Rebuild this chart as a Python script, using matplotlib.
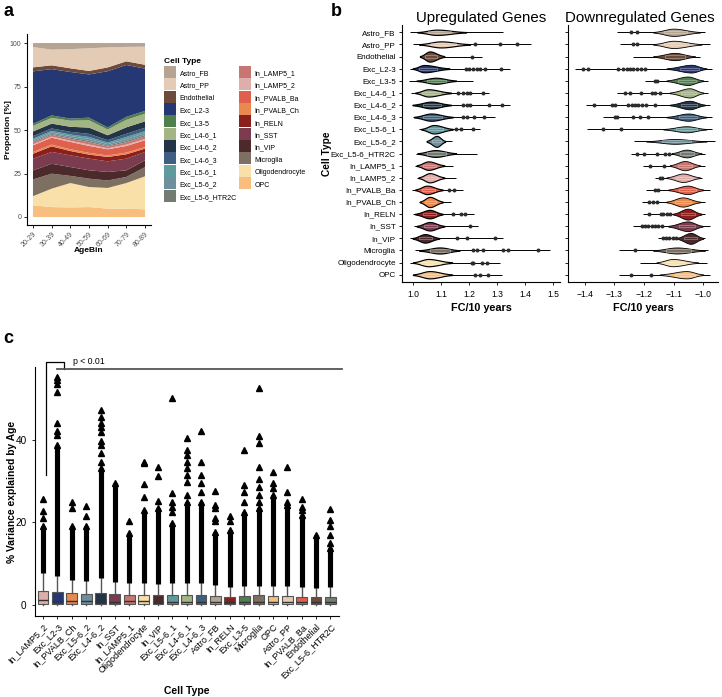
import numpy as np
import matplotlib
matplotlib.use("Agg")
import matplotlib.pyplot as plt
from matplotlib.lines import Line2D

plt.rcParams['font.family'] = ['Liberation Sans', 'DejaVu Sans']

# Cell types (legend order) and their colours
cell_types = ['Astro_FB', 'Astro_PP', 'Endothelial', 'Exc_L2-3', 'Exc_L3-5', 'Exc_L4-6_1',
              'Exc_L4-6_2', 'Exc_L4-6_3', 'Exc_L5-6_1', 'Exc_L5-6_2', 'Exc_L5-6_HTR2C',
              'In_LAMP5_1', 'In_LAMP5_2', 'In_PVALB_Ba', 'In_PVALB_Ch', 'In_RELN', 'In_SST',
              'In_VIP', 'Microglia', 'Oligodendrocyte', 'OPC']
cell_colors = ['#b5a393', '#e3cbb5', '#6e4a3a', '#263874', '#4e7f4d', '#a4b484',
               '#243447', '#3e5f82', '#5e9a9e', '#6e8f9c', '#737c73',
               '#c87672', '#ddaeaa', '#e0604e', '#e9894d', '#8b1f1e', '#7a3c4e',
               '#4c2a2c', '#7d6f62', '#f9dfa8', '#f8be7e']
color_of = dict(zip(cell_types, cell_colors))

# ---- panel a: composition by age bin ----
age_bins = ['20-29', '30-39', '40-49', '50-59', '60-69', '70-79', '80-89']
prop_OPC = [6.7, 5.7, 5.5, 5.7, 4.8, 4.8, 4.4]
prop_Oligodendrocyte = [5.3, 10.6, 14.0, 11.5, 11.9, 14.7, 19.0]
prop_Microglia = [9.6, 8.6, 4.1, 4.8, 4.3, 3.5, 5.3]
prop_In_VIP = [5.2, 5.7, 5.1, 4.8, 4.9, 3.8, 3.9]
prop_In_SST = [6.7, 6.8, 6.7, 6.7, 6.1, 6.7, 4.8]
prop_In_RELN = [2.9, 3.2, 2.5, 2.3, 2.5, 2.5, 1.9]
prop_In_PVALB_Ch = [1.0, 1.0, 1.0, 1.0, 0.9, 1.0, 0.9]
prop_In_PVALB_Ba = [3.8, 4.0, 4.2, 4.0, 3.5, 3.8, 3.9]
prop_In_LAMP5_2 = [0.6, 0.6, 0.7, 0.8, 0.6, 0.8, 0.8]
prop_In_LAMP5_1 = [1.0, 1.0, 1.1, 1.3, 1.0, 1.3, 1.4]
prop_Exc_L5_6_HTR2C = [0.6, 0.6, 0.7, 0.8, 0.6, 0.8, 0.8]
prop_Exc_L5_6_2 = [0.8, 0.8, 0.9, 1.1, 0.8, 1.1, 1.1]
prop_Exc_L5_6_1 = [0.9, 0.9, 0.9, 1.1, 0.9, 1.2, 1.2]
prop_Exc_L4_6_3 = [1.4, 1.4, 1.5, 1.8, 1.4, 1.8, 1.9]
prop_Exc_L4_6_2 = [2.7, 2.8, 2.9, 3.6, 2.8, 3.7, 3.7]
prop_Exc_L4_6_1 = [3.2, 3.3, 3.5, 4.2, 3.3, 4.3, 4.4]
prop_Exc_L3_5 = [1.2, 1.4, 1.2, 1.5, 1.2, 1.7, 1.6]
prop_Exc_L2_3 = [30.2, 26.6, 26.8, 24.8, 32.3, 29.8, 24.3]
prop_Endothelial = [2.3, 2.2, 2.1, 2.0, 2.2, 2.1, 2.2]
prop_Astro_PP = [11.7, 9.0, 11.0, 13.0, 11.5, 8.3, 10.4]
prop_Astro_FB = [2.3, 3.8, 3.5, 3.0, 2.5, 2.2, 2.1]

# ---- panel b: FC per 10 years (rows in legend order) ----
up_lo = [0.99, 1.00, 1.027, 0.99, 0.986, 0.993, 0.997, 1.00, 1.022, 1.049, 1.011,
         1.008, 1.016, 0.997, 1.022, 1.00, 1.004, 0.99, 1.008, 0.989, 1.00]
up_hi = [1.32, 1.42, 1.245, 1.346, 1.215, 1.27, 1.346, 1.293, 1.24, 1.138, 1.227,
         1.142, 1.154, 1.18, 1.135, 1.218, 1.233, 1.32, 1.49, 1.31, 1.318]
up_mode = [1.085, 1.10, 1.06, 1.04, 1.082, 1.055, 1.065, 1.065, 1.075, 1.085, 1.08,
           1.055, 1.06, 1.05, 1.06, 1.06, 1.06, 1.043, 1.096, 1.055, 1.06]
up_core_lo = [1.016, 1.022, 1.025, 0.999, 1.013, 1.008, 0.999, 1.004, 1.03, 1.049, 1.016,
              1.013, 1.02, 1.008, 1.025, 1.008, 1.013, 0.999, 1.022, 1.0, 1.0]
up_core_hi = [1.19, 1.204, 1.112, 1.13, 1.154, 1.136, 1.136, 1.142, 1.142, 1.115, 1.154,
              1.112, 1.112, 1.106, 1.106, 1.106, 1.112, 1.094, 1.166, 1.14, 1.14]
up_width = [0.22, 0.25, 0.42, 0.3, 0.25, 0.3, 0.28, 0.3, 0.35, 0.45, 0.28,
            0.35, 0.38, 0.35, 0.42, 0.35, 0.35, 0.35, 0.25, 0.3, 0.3]
up_out = [[], [1.22, 1.31, 1.37], [1.21], [1.189, 1.2, 1.215, 1.229, 1.241, 1.257, 1.313], [],
          [1.162, 1.177, 1.194, 1.203, 1.249], [1.18, 1.192, 1.203, 1.273, 1.317],
          [1.177, 1.192, 1.218, 1.254], [1.154, 1.17, 1.213], [], [], [], [], [1.13, 1.146], [],
          [1.142, 1.172, 1.186], [1.205], [1.156, 1.192, 1.293],
          [1.214, 1.229, 1.25, 1.32, 1.34, 1.445], [1.21, 1.215, 1.246, 1.264],
          [1.221, 1.239, 1.268]]

down_lo = [-1.293, -1.282, -1.238, -1.434, -1.197, -1.29, -1.397, -1.339, -1.393, -1.234, -1.245,
           -1.204, -1.164, -1.194, -1.207, -1.204, -1.238, -1.153, -1.285, -1.214, -1.285]
down_hi = [-0.995, -0.978, -1.012, -0.971, -0.984, -0.984, -0.978, -0.971, -0.971, -0.961, -0.995,
           -0.995, -1.005, -0.978, -0.995, -0.995, -0.978, -0.995, -0.984, -0.988, -0.978]
down_mode = [-1.10, -1.10, -1.096, -1.04, -1.052, -1.046, -1.046, -1.05, -1.056, -1.096, -1.056,
             -1.062, -1.068, -1.052, -1.069, -1.052, -1.052, -1.042, -1.089, -1.103, -1.056]
down_core_lo = [-1.169, -1.169, -1.169, -1.124, -1.124, -1.113, -1.113, -1.124, -1.135, -1.192, -1.107,
                -1.113, -1.124, -1.118, -1.124, -1.102, -1.118, -1.09, -1.169, -1.158, -1.147]
down_core_hi = [-1.011, -1.006, -1.028, -0.989, -1.0, -1.0, -0.994, -0.989, -0.989, -0.989, -1.006,
                -1.011, -1.011, -1.0, -1.011, -1.006, -1.002, -1.0, -0.994, -1.017, -1.0]
down_width = [0.3, 0.3, 0.3, 0.32, 0.35, 0.38, 0.35, 0.3, 0.25, 0.2, 0.32,
              0.38, 0.35, 0.35, 0.38, 0.45, 0.4, 0.45, 0.25, 0.3, 0.3]
down_out = [[-1.245, -1.225], [-1.238, -1.225], [],
            [-1.407, -1.39, -1.289, -1.272, -1.259, -1.248, -1.238, -1.225, -1.211, -1.197],
            [-1.163, -1.157], [-1.265, -1.248, -1.211, -1.174, -1.164, -1.147],
            [-1.37, -1.309, -1.299, -1.255, -1.241, -1.231, -1.221, -1.207, -1.194, -1.164],
            [-1.299, -1.292, -1.238, -1.214, -1.187], [-1.339, -1.278], [],
            [-1.225, -1.2, -1.157, -1.13, -1.116], [-1.18, -1.133], [-1.147, -1.14],
            [-1.164, -1.153], [-1.184, -1.17, -1.157], [-1.184, -1.143, -1.136, -1.123, -1.113],
            [-1.207, -1.197, -1.187, -1.174, -1.164, -1.153, -1.14],
            [-1.137, -1.127, -1.116, -1.103, -1.093], [-1.231], [], [-1.245, -1.177]]

# ---- panel c: % variance explained by age ----
c_types = ['In_LAMP5_2', 'Exc_L2-3', 'In_PVALB_Ch', 'Exc_L5-6_2', 'Exc_L4-6_2', 'In_SST',
           'In_LAMP5_1', 'Oligodendrocyte', 'In_VIP', 'Exc_L5-6_1', 'Exc_L4-6_1', 'Exc_L4-6_3',
           'Astro_FB', 'In_RELN', 'Exc_L3-5', 'Microglia', 'OPC', 'Astro_PP', 'In_PVALB_Ba',
           'Endothelial', 'Exc_L5-6_HTR2C']
c_q1 = [0.3, 0.25, 0.25, 0.2, 0.2, 0.2, 0.2, 0.2, 0.2, 0.2, 0.2, 0.2, 0.15, 0.15, 0.15,
        0.15, 0.15, 0.15, 0.15, 0.15, 0.15]
c_med = [1.2, 0.9, 1.0, 0.9, 0.9, 0.8, 0.9, 0.9, 0.8, 0.8, 0.8, 0.8, 0.7, 0.7, 0.7,
         0.7, 0.6, 0.6, 0.7, 0.6, 0.6]
c_q3 = [3.4, 3.1, 2.8, 2.7, 2.9, 2.6, 2.4, 2.4, 2.4, 2.5, 2.5, 2.4, 2.2, 2.0, 2.2,
        2.4, 2.2, 2.2, 2.0, 1.9, 1.9]
c_whi = [7.7, 6.9, 6.0, 5.8, 6.5, 5.6, 5.4, 5.2, 5.1, 5.4, 5.4, 5.2, 4.8, 4.4, 4.6,
         4.6, 4.6, 4.6, 4.3, 4.0, 4.3]
c_dense = [19.0, 38.7, 19.0, 19.0, 33.1, 29.4, 17.3, 23.0, 23.4, 19.8, 25.0, 25.0, 17.7,
           18.1, 22.6, 23.4, 26.6, 24.2, 21.8, 16.9, 13.7]
c_sparse = [[21.1, 22.7, 25.6], [41.1, 42.1, 44.0, 51.6, 53.6, 54.4, 55.2], [23.4, 24.8],
            [21.4, 24.0], [34.7, 36.7, 38.7, 39.7, 41.8, 43.1, 44.0, 45.6, 47.2], [], [20.2],
            [26.2, 29.2, 34.3, 34.7], [25.2, 31.3, 33.5], [22.4, 23.8, 25.0, 27.0, 50.0],
            [26.6, 29.8, 31.5, 33.1, 34.7, 36.3, 37.5, 40.3], [27.4, 29.4, 31.5, 34.7, 42.1],
            [20.2, 21.0, 23.4, 24.2, 27.6], [20.2, 21.4], [25.0, 27.4, 29.0, 37.5],
            [25.0, 26.6, 28.6, 30.5, 33.3, 39.3, 41.0, 52.6], [28.2, 29.4, 32.1],
            [25.0, 27.4, 33.5], [23.0, 23.8, 25.6], [], [14.9, 16.9, 19.0, 20.6, 23.2]]

W, H = 722, 697
fig = plt.figure(figsize=(W / 100, H / 100), dpi=100)


def px_axes(left, top, right, bottom):
    return fig.add_axes([left / W, 1 - bottom / H, (right - left) / W, (bottom - top) / H])


def style_axis(ax):
    for s in ['top', 'right']:
        ax.spines[s].set_visible(False)
    for s in ['left', 'bottom']:
        ax.spines[s].set_linewidth(0.8)
    ax.tick_params(length=2.5, width=0.6)


# ---------------- panel a ----------------
ax_a = px_axes(27, 34, 151, 225)
stack_bottom_first = [prop_OPC, prop_Oligodendrocyte, prop_Microglia, prop_In_VIP, prop_In_SST,
                      prop_In_RELN, prop_In_PVALB_Ch, prop_In_PVALB_Ba, prop_In_LAMP5_2,
                      prop_In_LAMP5_1, prop_Exc_L5_6_HTR2C, prop_Exc_L5_6_2, prop_Exc_L5_6_1,
                      prop_Exc_L4_6_3, prop_Exc_L4_6_2, prop_Exc_L4_6_1, prop_Exc_L3_5,
                      prop_Exc_L2_3, prop_Endothelial, prop_Astro_PP, prop_Astro_FB]
layers = np.array(stack_bottom_first, dtype=float)
layers = layers / layers.sum(axis=0) * 100
x_age = np.arange(len(age_bins))
ax_a.stackplot(x_age, layers, colors=cell_colors[::-1], linewidth=0)
ax_a.set_xlim(-0.32, 6.32)
ax_a.set_ylim(-4.6, 105.2)
ax_a.set_yticks([0, 25, 50, 75, 100])
ax_a.set_xticks(x_age)
ax_a.set_xticklabels(age_bins, rotation=45, ha='right', rotation_mode='anchor')
ax_a.tick_params(labelsize=5, labelcolor='#4d4d4d', pad=1.5)
style_axis(ax_a)
ax_a.set_xlabel('AgeBin', fontsize=6, fontweight='bold')
ax_a.xaxis.set_label_coords(0.5, -0.115)
ax_a.set_ylabel('Proportion [%]', fontsize=6, fontweight='bold')
ax_a.yaxis.set_label_coords(-0.12, 0.5)

handles = [Line2D([], [], marker='s', markersize=8.2, markeredgewidth=0, color=c, linestyle='None')
           for c in cell_colors]
fig.legend(handles, cell_types, loc='upper left', bbox_to_anchor=(161 / W, 1 - 55 / H),
           ncol=2, frameon=False, fontsize=5, title='Cell Type',
           title_fontproperties={'weight': 'bold', 'size': 6}, alignment='left',
           handlelength=1.6, handleheight=1.75, labelspacing=0.4, handletextpad=0.6,
           columnspacing=0.35, borderpad=0.0)


# ---------------- panel b ----------------
def draw_violins(ax, lo, hi, mode, clo, chi, width, outs, edge_lw):
    for i, ct in enumerate(cell_types):
        ax.hlines(i, lo[i], hi[i], color='black', lw=0.7, zorder=2)
        xs = np.linspace(clo[i], chi[i], 150)
        sl = (mode[i] - clo[i]) / 2.2
        sr = (chi[i] - mode[i]) / 2.2
        s = np.where(xs < mode[i], sl, sr)
        d = np.exp(-0.5 * ((xs - mode[i]) / s) ** 2)
        ax.fill_between(xs, i - width[i] * d, i + width[i] * d, facecolor=color_of[ct],
                        edgecolor='black', lw=edge_lw, zorder=3)
        bl = mode[i] - 0.45 * (mode[i] - clo[i])
        br = mode[i] + 0.5 * (chi[i] - mode[i])
        ax.add_patch(plt.Rectangle((bl, i - 0.09), br - bl, 0.18, fill=False,
                                   edgecolor=(1, 1, 1, 0.55), lw=0.4, zorder=4))
        if outs[i]:
            ax.scatter(outs[i], [i] * len(outs[i]), s=8, color='#2b2b2b', zorder=5,
                       linewidths=0)
    ax.set_ylim(len(cell_types) - 0.4, -0.6)
    ax.set_yticks(range(len(cell_types)))
    style_axis(ax)


ax_up = px_axes(402, 25, 560, 282)
draw_violins(ax_up, up_lo, up_hi, up_mode, up_core_lo, up_core_hi, up_width, up_out, 0.85)
ax_up.set_xlim(0.961, 1.525)
ax_up.set_xticks([1.0, 1.1, 1.2, 1.3, 1.4, 1.5])
ax_up.set_yticklabels(cell_types)
ax_up.tick_params(axis='y', labelsize=5.8, pad=2)
ax_up.tick_params(axis='x', labelsize=6.2)
ax_up.set_xlabel('FC/10 years', fontsize=7.8, fontweight='bold', labelpad=3)
ax_up.set_ylabel('Cell Type', fontsize=7.3, fontweight='bold')
ax_up.yaxis.set_label_coords(-0.443, 0.5)

ax_dn = px_axes(568, 25, 718, 282)
draw_violins(ax_dn, down_lo, down_hi, down_mode, down_core_lo, down_core_hi, down_width,
             down_out, 0.6)
ax_dn.set_xlim(-1.457, -0.95)
ax_dn.set_xticks([-1.4, -1.3, -1.2, -1.1, -1.0])
ax_dn.set_yticklabels([])
ax_dn.tick_params(axis='x', labelsize=6.2)
ax_dn.set_xlabel('FC/10 years', fontsize=7.8, fontweight='bold', labelpad=3)

fig.text(481 / W, 1 - 18 / H, 'Upregulated Genes', ha='center', va='center', fontsize=10.8)
fig.text(640 / W, 1 - 18 / H, 'Downregulated Genes', ha='center', va='center', fontsize=10.8)

# ---------------- panel c ----------------
ax_c = px_axes(35, 367, 339, 616)
pos = np.arange(len(c_types))
stats = [dict(med=c_med[i], q1=c_q1[i], q3=c_q3[i], whislo=0.0, whishi=c_whi[i], fliers=[])
         for i in range(len(c_types))]
bp = ax_c.bxp(stats, positions=pos, widths=0.75, patch_artist=True, showfliers=False,
              showcaps=False, boxprops=dict(edgecolor='#555555', lw=0.8),
              whiskerprops=dict(color='#555555', lw=1.0),
              medianprops=dict(color='#333333', lw=1.0))
for patch, ct in zip(bp['boxes'], c_types):
    patch.set_facecolor(color_of[ct])
ax_c.vlines(pos, c_whi, c_dense, color='black', lw=3.7, zorder=3)
ax_c.plot(pos, c_dense, '^', color='black', ms=3.7, zorder=3)
for i in range(len(c_types)):
    if c_sparse[i]:
        ax_c.plot([i] * len(c_sparse[i]), c_sparse[i], '^', color='black', ms=3.7,
                  lw=0, zorder=3)
ax_c.set_xlim(-0.56, 20.6)
ax_c.set_ylim(-2.7, 57.6)
ax_c.set_yticks([0, 20, 40])
ax_c.set_xticks(pos)
ax_c.set_xticklabels(c_types, rotation=45, ha='right', rotation_mode='anchor')
ax_c.tick_params(axis='x', labelsize=6.5, pad=2)
ax_c.tick_params(axis='y', labelsize=7.2)
style_axis(ax_c)
ax_c.set_xlabel('Cell Type', fontsize=7.5, fontweight='bold')
ax_c.xaxis.set_label_coords(0.5, -0.28)
ax_c.set_ylabel('% Variance explained by Age', fontsize=7.4, fontweight='bold')
ax_c.yaxis.set_label_coords(-0.06, 0.5)

# significance bracket
ax_c.plot([0.2, 0.2, 1.45, 1.45], [31.5, 58.9, 58.9, 57.1], color='black', lw=0.9,
          clip_on=False)
ax_c.plot([0.95, 20.8], [57.1, 57.1], color='#555555', lw=1.3, clip_on=False)
ax_c.text(2.1, 58.9, 'p < 0.01', fontsize=6.3, va='center', ha='left')

# panel letters
fig.text(3 / W, 1 - 3 / H, 'a', fontsize=13, fontweight='bold', va='top')
fig.text(331 / W, 1 - 3 / H, 'b', fontsize=13, fontweight='bold', va='top')
fig.text(3 / W, 1 - 330 / H, 'c', fontsize=13, fontweight='bold', va='top')

fig.savefig('out.png', dpi=100)
